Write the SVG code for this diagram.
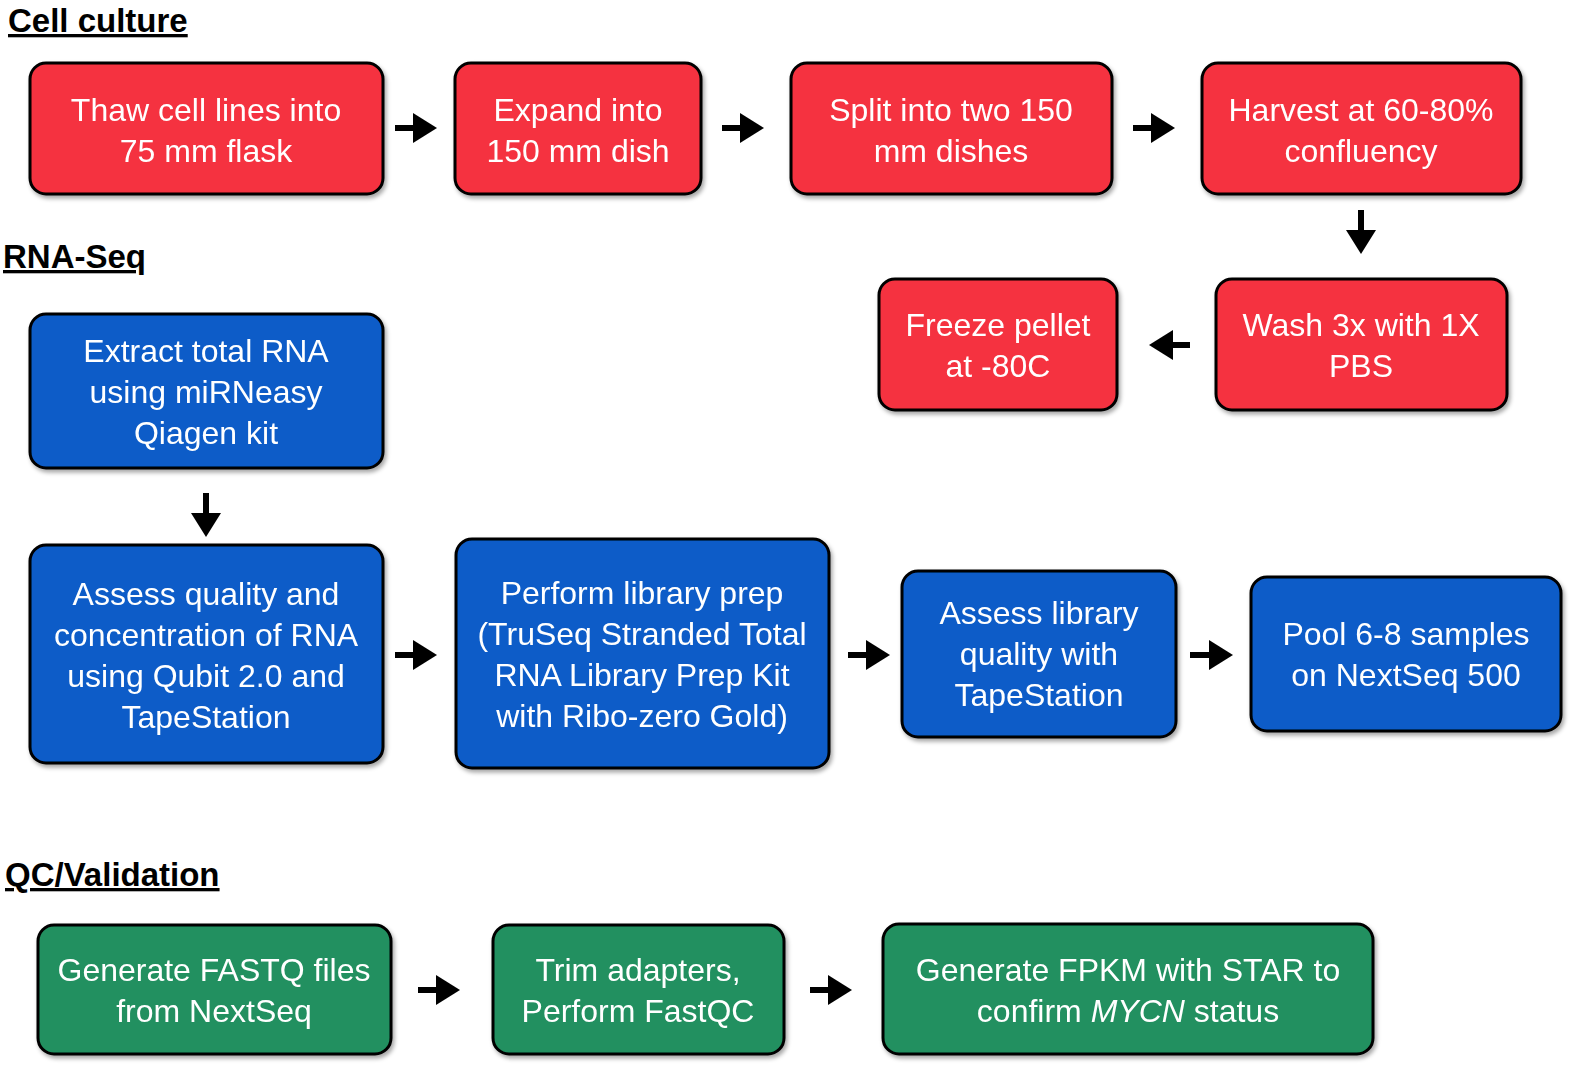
<svg xmlns="http://www.w3.org/2000/svg" width="1575" height="1070" viewBox="0 0 1575 1070">
<style>
.b{stroke:#000;stroke-width:3}
.r{fill:#F5323F}.u{fill:#0B5CC8}.g{fill:#229060}
.t{fill:#fff;font-family:"Liberation Sans",Arial,sans-serif;font-size:32px;text-anchor:middle}
.h{font-family:"Liberation Sans",Arial,sans-serif;font-size:33px;font-weight:bold;text-decoration:underline}
.a{stroke:#000;stroke-width:6;fill:none;marker-end:url(#m)}
</style>
<defs>
<marker id="m" markerWidth="4" markerHeight="5" refX="3" refY="2.5" orient="auto" markerUnits="strokeWidth"><path d="M0,0L4,2.5L0,5Z"/></marker>
<filter id="s"><feDropShadow dx="2" dy="3" stdDeviation="2" flood-opacity="0.35"/></filter>
</defs>
<text class="h" x="8" y="32">Cell culture</text>
<text class="h" x="3" y="268">RNA-Seq</text>
<text class="h" x="5" y="886">QC/Validation</text>
<g id="n1" filter="url(#s)"><rect class="b r" x="30" y="63" width="353" height="131" rx="16"/><text class="t" x="206" y="121">Thaw cell lines into</text><text class="t" x="206" y="162">75 mm flask</text></g>
<g id="n2" filter="url(#s)"><rect class="b r" x="455" y="63" width="246" height="131" rx="16"/><text class="t" x="578" y="121">Expand into</text><text class="t" x="578" y="162">150 mm dish</text></g>
<g id="n3" filter="url(#s)"><rect class="b r" x="791" y="63" width="321" height="131" rx="16"/><text class="t" x="951" y="121">Split into two 150</text><text class="t" x="951" y="162">mm dishes</text></g>
<g id="n4" filter="url(#s)"><rect class="b r" x="1202" y="63" width="319" height="131" rx="16"/><text class="t" x="1361" y="121">Harvest at 60-80%</text><text class="t" x="1361" y="162">confluency</text></g>
<g id="n5" filter="url(#s)"><rect class="b r" x="1216" y="279" width="291" height="131" rx="16"/><text class="t" x="1361" y="336">Wash 3x with 1X</text><text class="t" x="1361" y="377">PBS</text></g>
<g id="n6" filter="url(#s)"><rect class="b r" x="879" y="279" width="238" height="131" rx="16"/><text class="t" x="998" y="336">Freeze pellet</text><text class="t" x="998" y="377">at -80C</text></g>
<g id="n7" filter="url(#s)"><rect class="b u" x="30" y="314" width="353" height="154" rx="16"/><text class="t" x="206" y="362">Extract total RNA</text><text class="t" x="206" y="403">using miRNeasy</text><text class="t" x="206" y="444">Qiagen kit</text></g>
<g id="n8" filter="url(#s)"><rect class="b u" x="30" y="545" width="353" height="218" rx="16"/><text class="t" x="206" y="605">Assess quality and</text><text class="t" x="206" y="646">concentration of RNA</text><text class="t" x="206" y="687">using Qubit 2.0 and</text><text class="t" x="206" y="728">TapeStation</text></g>
<g id="n9" filter="url(#s)"><rect class="b u" x="456" y="539" width="373" height="229" rx="16"/><text class="t" x="642" y="604">Perform library prep</text><text class="t" x="642" y="645">(TruSeq Stranded Total</text><text class="t" x="642" y="686">RNA Library Prep Kit</text><text class="t" x="642" y="727">with Ribo-zero Gold)</text></g>
<g id="n10" filter="url(#s)"><rect class="b u" x="902" y="571" width="274" height="166" rx="16"/><text class="t" x="1039" y="624">Assess library</text><text class="t" x="1039" y="665">quality with</text><text class="t" x="1039" y="706">TapeStation</text></g>
<g id="n11" filter="url(#s)"><rect class="b u" x="1251" y="577" width="310" height="154" rx="16"/><text class="t" x="1406" y="645">Pool 6-8 samples</text><text class="t" x="1406" y="686">on NextSeq 500</text></g>
<g id="n12" filter="url(#s)"><rect class="b g" x="38" y="925" width="353" height="129" rx="16"/><text class="t" x="214" y="981">Generate FASTQ files</text><text class="t" x="214" y="1022">from NextSeq</text></g>
<g id="n13" filter="url(#s)"><rect class="b g" x="493" y="925" width="291" height="129" rx="16"/><text class="t" x="638" y="981">Trim adapters,</text><text class="t" x="638" y="1022">Perform FastQC</text></g>
<g id="n14" filter="url(#s)"><rect class="b g" x="883" y="924" width="490" height="130" rx="16"/><text class="t" x="1128" y="981">Generate FPKM with STAR to</text><text class="t" x="1128" y="1022">confirm <tspan font-style="italic">MYCN</tspan> status</text></g>
<g id="connectors">
<path class="a" d="M395,128H431"/><path class="a" d="M722,128H758"/><path class="a" d="M1133,128H1169"/>
<path class="a" d="M1361,210V248"/><path class="a" d="M1190,345H1155"/>
<path class="a" d="M206,493V531"/>
<path class="a" d="M395,655H431"/><path class="a" d="M848,655H884"/><path class="a" d="M1190,655H1227"/>
<path class="a" d="M418,990H454"/><path class="a" d="M810,990H846"/>
</g>
</svg>
